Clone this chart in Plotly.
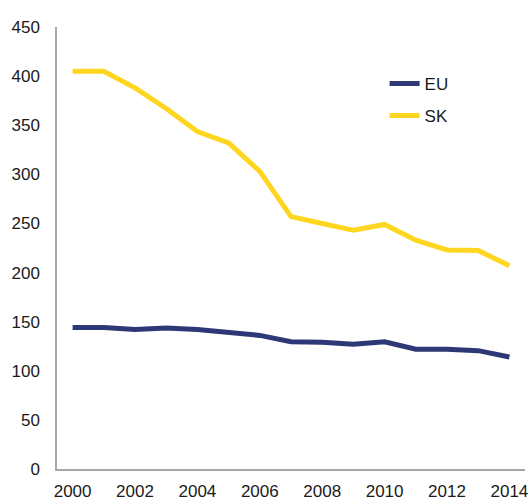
import plotly.graph_objects as go

years = [str(y) for y in range(2000, 2015)]
eu = [144, 144, 142, 143.5, 142, 139.5, 136, 129.5, 129, 127, 129.5, 122, 122, 120.5, 114]
sk = [405, 405, 388, 367, 343.5, 332, 303, 257, 250, 243, 249, 233, 223, 222.5, 207]
tick_years = [str(y) for y in range(2000, 2015, 2)]

fig = go.Figure()
fig.add_trace(go.Scatter(x=years, y=eu, mode="lines", name="EU", legendgroup="a",
                         line=dict(color="#2E3876", width=5)))
fig.add_trace(go.Scatter(x=years, y=sk, mode="lines", name="SK", legendgroup="b",
                         line=dict(color="#FFD61F", width=5)))

fig.update_layout(
    width=531, height=500,
    margin=dict(l=57, r=6, t=27, b=31),
    paper_bgcolor="white", plot_bgcolor="white",
    font=dict(family="Liberation Sans, Arial, sans-serif", size=17, color="#1a1a1a"),
    showlegend=True,
    legend=dict(x=0.70, y=0.912, xanchor="left", yanchor="top",
                bgcolor="rgba(0,0,0,0)", tracegroupgap=7, traceorder="grouped",
                font=dict(size=17)),
    xaxis=dict(type="category", tickmode="array", tickvals=tick_years, ticktext=tick_years,
               range=[-0.5, 14.5], showgrid=False, showline=True, linecolor="#A6A6A6",
               linewidth=1.5, ticks="", zeroline=False, ticklabelstandoff=6, automargin=False),
    yaxis=dict(range=[0, 450], dtick=50, showgrid=False, showline=True, linecolor="#A6A6A6",
               linewidth=1.5, ticks="", zeroline=False, ticklabelstandoff=12, automargin=False),
)
fig.write_html("out.html", config={"displayModeBar": False},
               post_script="document.body.style.margin='0';document.body.style.overflow='hidden';")
